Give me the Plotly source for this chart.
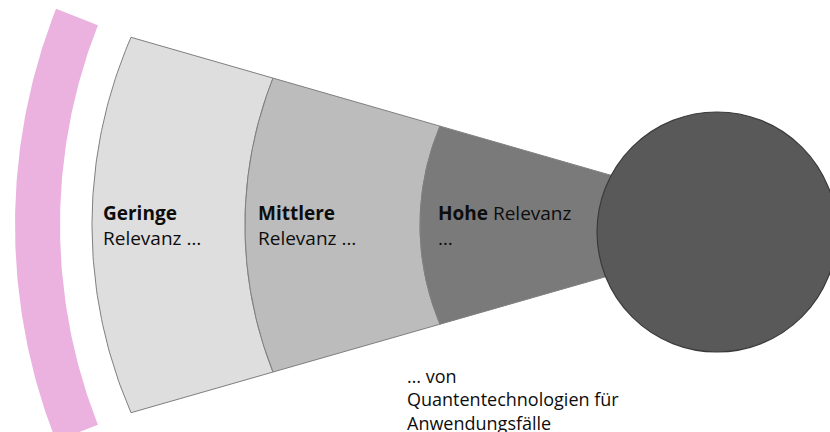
import numpy as np
import plotly.graph_objects as go

# ---- content ----
levels = ["Geringe", "Mittlere", "Hohe"]
line1 = ["<b>Geringe</b>", "<b>Mittlere</b>", "<b>Hohe</b> Relevanz"]
line2 = ["Relevanz …", "Relevanz …", "…"]
footer = ["… von", "Quantentechnologien für", "Anwendungsfälle"]
fills = ["#dedede", "#bcbcbc", "#7a7a7a"]

W, H = 830, 432

# ---- geometry (pixel space of the diagram) ----
def y_top(x):
    return 37 + 0.2875 * (x - 130)

def y_bot(x):
    return 413 - 0.2865 * (x - 130)

# boundary arcs: (x at corners, x at middle)
bounds = [(131, 92), (273, 245), (440, 420)]
right_end = 700


def circle3(p1, p2, p3):
    ax, ay = p1; bx, by = p2; cx, cy = p3
    d = 2 * (ax * (by - cy) + bx * (cy - ay) + cx * (ay - by))
    ux = ((ax**2 + ay**2) * (by - cy) + (bx**2 + by**2) * (cy - ay) + (cx**2 + cy**2) * (ay - by)) / d
    uy = ((ax**2 + ay**2) * (cx - bx) + (bx**2 + by**2) * (ax - cx) + (cx**2 + cy**2) * (bx - ax)) / d
    return ux, uy, np.hypot(ax - ux, ay - uy)


def arc(p1, p2, p3, n=80):
    ux, uy, r = circle3(p1, p2, p3)
    a1 = np.arctan2(p1[1] - uy, p1[0] - ux)
    a2 = np.arctan2(p2[1] - uy, p2[0] - ux)
    a3 = np.arctan2(p3[1] - uy, p3[0] - ux)
    sweep = (a3 - a1) % (2 * np.pi)
    if (a2 - a1) % (2 * np.pi) > sweep:
        sweep = sweep - 2 * np.pi
    t = a1 + np.linspace(0, 1, n) * sweep
    return ux + r * np.cos(t), uy + r * np.sin(t)


def boundary(xc, xm, downward=True):
    top = (xc, y_top(xc))
    bot = (xc, y_bot(xc))
    mid = (xm, (y_top(xc) + y_bot(xc)) / 2)
    if downward:
        return arc(top, mid, bot)
    return arc(bot, mid, top)


fig = go.Figure()

# pink outer band
cxp, cyp, r_in, r_out = 605, 225, 545, 590
a0, a1 = np.deg2rad(158.5), np.deg2rad(201.5)
t = np.linspace(a0, a1, 120)
px = np.concatenate([cxp + r_out * np.cos(t), cxp + r_in * np.cos(t[::-1])])
py = np.concatenate([cyp + r_out * np.sin(t), cyp + r_in * np.sin(t[::-1])])
fig.add_trace(go.Scatter(x=px, y=py, fill="toself", fillcolor="#ebb2e0",
                         mode="lines", line=dict(width=0, color="#ebb2e0"),
                         hoverinfo="skip", showlegend=False))

# wedge segments
for i, name in enumerate(levels):
    lx, ly = boundary(*bounds[i], downward=False)  # bottom -> top
    if i + 1 < len(bounds):
        rx, ry = boundary(*bounds[i + 1], downward=True)  # top -> bottom
    else:
        rx = np.array([right_end, right_end])
        ry = np.array([y_top(right_end), y_bot(right_end)])
    xs = np.concatenate([lx, rx, lx[:1]])
    ys = np.concatenate([ly, ry, ly[:1]])
    fig.add_trace(go.Scatter(x=xs, y=ys, fill="toself", fillcolor=fills[i],
                             mode="lines", line=dict(width=1, color="#7f7f7f"),
                             name=name, hoverinfo="skip", showlegend=False))

# circle
fig.add_shape(type="circle", xref="x", yref="y", x0=597, x1=837, y0=112, y1=352,
              fillcolor="#595959", line=dict(color="#3a3a3a", width=1.2), layer="above")

# labels
label_x = [101, 256, 436]
font = dict(family="Open Sans", size=19, color="#0d0d0d")
for i in range(len(levels)):
    fig.add_annotation(x=label_x[i], y=213, text=line1[i], showarrow=False,
                       xanchor="left", yanchor="middle", font=font)
    fig.add_annotation(x=label_x[i], y=238, text=line2[i], showarrow=False,
                       xanchor="left", yanchor="middle", font=font)

fig.add_annotation(x=405, y=362, text="<br>".join(footer), showarrow=False,
                   xanchor="left", yanchor="top", align="left",
                   font=dict(family="Open Sans", size=18, color="#0d0d0d"))

fig.update_layout(
    width=W, height=H, margin=dict(l=0, r=0, t=0, b=0),
    paper_bgcolor="white", plot_bgcolor="white",
    xaxis=dict(range=[0, W], visible=False, fixedrange=True),
    yaxis=dict(range=[H, 0], visible=False, fixedrange=True),
)

fig.write_html(
    "out.html",
    config={"displayModeBar": False},
    post_script="document.body.style.margin='0';document.body.style.overflow='hidden';",
)
